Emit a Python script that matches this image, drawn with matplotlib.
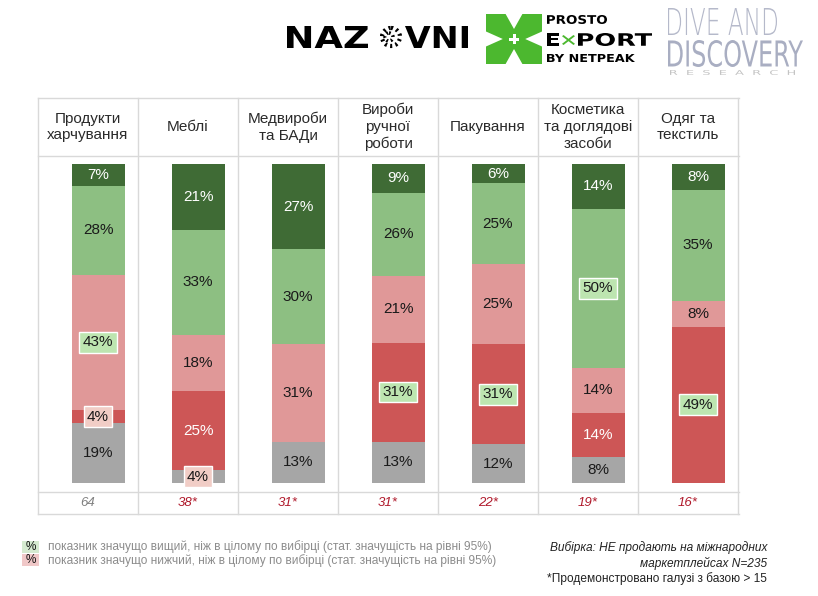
import numpy as np
import matplotlib
matplotlib.use('Agg')
import matplotlib.pyplot as plt
from matplotlib.textpath import TextPath
from matplotlib.patches import PathPatch, Polygon, Rectangle, Circle
from matplotlib.font_manager import FontProperties
from matplotlib.transforms import Affine2D

plt.rcParams['font.family'] = ['Liberation Sans', 'DejaVu Sans']

# ---- data ----
categories = ['Продукти\nхарчування', 'Меблі', 'Медвироби\nта БАДи',
              'Вироби\nручної\nроботи', 'Пакування',
              'Косметика\nта доглядові\nзасоби', 'Одяг та\nтекстиль']
gray = [19, 4, 13, 13, 12, 8, 0]
dark_red = [4, 25, 0, 31, 31, 14, 49]
light_red = [43, 18, 31, 21, 25, 14, 8]
light_green = [28, 33, 30, 26, 25, 50, 35]
dark_green = [7, 21, 27, 9, 6, 14, 8]
bases = ['64', '38*', '31*', '31*', '22*', '19*', '16*']
# significance flags per segment: 'h' higher, 'l' lower
gray_sig = ['', 'l', '', '', '', '', '']
dark_red_sig = ['l', '', '', 'h', 'h', '', 'h']
light_red_sig = ['h', '', '', '', '', '', '']
light_green_sig = ['', '', '', '', '', 'h', '']
dark_green_sig = ['', '', '', '', '', '', '']

series = [
    (gray, gray_sig, '#a6a6a6', '#1a1a1a'),
    (dark_red, dark_red_sig, '#cd5656', 'white'),
    (light_red, light_red_sig, '#e09898', '#1a1a1a'),
    (light_green, light_green_sig, '#8dbf82', '#1a1a1a'),
    (dark_green, dark_green_sig, '#3f6b35', 'white'),
]

W, H = 818, 596
fig = plt.figure(figsize=(W / 100, H / 100), dpi=100)

# overlay in pixel coordinates for table lines, headers and logos
ov = fig.add_axes([0, 0, 1, 1])
ov.set_xlim(0, W)
ov.set_ylim(H, 0)
ov.axis('off')

left, right = 38, 738
col_w = (right - left) / len(categories)
line_c = '#d9d9d9'
for y in [98, 156, 492, 514]:
    ov.plot([left, right + 1], [y, y], color=line_c, lw=1)
for i in range(len(categories) + 1):
    ov.plot([left + i * col_w] * 2, [98, 514], color=line_c, lw=1)

for i, cat in enumerate(categories):
    cx = left + (i + 0.5) * col_w
    ov.text(cx, 127, cat, ha='center', va='center', fontsize=11,
            color='#2a2a2a', linespacing=1.25)
    ov.text(cx, 503, bases[i], ha='center', va='center', fontsize=9.5,
            style='italic', color='#808080' if i == 0 else '#b0192b')

# ---- bars ----
ax = fig.add_axes([left / W, (H - 483) / H, (right - left) / W, 319 / H])
ax.set_xlim(0, len(categories))
ax.set_ylim(0, 100)
ax.axis('off')

totals = np.sum([s[0] for s in series], axis=0)
x = np.arange(len(categories)) + 0.6
bottom = np.zeros(len(categories))
for vals, sig, col, tcol in series:
    share = np.array(vals) / totals * 100
    ax.bar(x, share, 0.53, bottom=bottom, color=col, linewidth=0)
    for i, v in enumerate(vals):
        if v == 0:
            continue
        yc = bottom[i] + share[i] / 2
        kw = dict(ha='center', va='center', fontsize=11, color=tcol)
        if sig[i] == 'h':
            kw['color'] = '#1a1a1a'
            kw['bbox'] = dict(boxstyle='square,pad=0.22', fc='#bde5b0',
                              ec='white', lw=1)
        elif sig[i] == 'l':
            kw['color'] = '#1a1a1a'
            kw['bbox'] = dict(boxstyle='square,pad=0.22', fc='#f1cdc6',
                              ec='white', lw=1)
        ax.text(x[i], yc, f'{v}%', **kw)
    bottom += share

# ---- legend and notes ----
ov.add_patch(Rectangle((22, 541), 17, 12, fc='#d5ead0', ec='none'))
ov.add_patch(Rectangle((22, 554), 17, 12, fc='#f0c8c8', ec='none'))
ov.text(30.5, 547, '%', ha='center', va='center', fontsize=8.5, color='#111111')
ov.text(30.5, 560, '%', ha='center', va='center', fontsize=8.5, color='#111111')
ov.text(48, 547, 'показник значущо вищий, ніж в цілому по вибірці (стат. значущість на рівні 95%)',
        ha='left', va='center', fontsize=8.6, color='#8c8c8c')
ov.text(48, 561, 'показник значущо нижчий, ніж в цілому по вибірці (стат. значущість на рівні 95%)',
        ha='left', va='center', fontsize=8.6, color='#8c8c8c')
ov.text(767, 548, 'Вибірка: НЕ продають на міжнародних', ha='right', va='center',
        fontsize=8.6, style='italic', color='#222222')
ov.text(767, 563, 'маркетплейсах N=235', ha='right', va='center',
        fontsize=8.6, style='italic', color='#222222')
ov.text(767, 579, '*Продемонстровано галузі з базою > 15', ha='right', va='center',
        fontsize=8.6, color='#222222')


# ---- logos ----
def fit_text(s, x0, x1, y0, y1, color, **fp):
    tp = TextPath((0, 0), s, size=10, prop=FontProperties(**fp))
    bb = tp.get_extents()
    tr = Affine2D().translate(-bb.x0, -bb.y0).scale(
        (x1 - x0) / bb.width, -(y1 - y0) / bb.height).translate(x0, y1)
    ov.add_patch(PathPatch(tr.transform_path(tp), fc=color, ec='none', lw=0))


fit_text('NAZ', 287, 368, 26, 48, 'black', family='DejaVu Sans', weight='bold')
fit_text('VNI', 405, 468, 26, 48, 'black', family='DejaVu Sans', weight='bold')
ov.add_patch(Circle((391, 37), 9, fill=False, ec='black', lw=3, ls=(0, (0.5, 0.8))))
ov.add_patch(Circle((389, 37), 4, fill=False, ec='black', lw=2.5, ls=(0, (0.5, 0.8))))

# green X icon
gx0, gx1, gy0, gy1 = 486, 542, 14, 64
u = np.array([0, .35, .5, .65, 1, 1, .7, 1, 1, .65, .5, .35, 0, 0, .3, 0])
v = np.array([0, 0, .3, 0, 0, .35, .5, .65, 1, 1, .7, 1, 1, .65, .5, .35])
ov.add_patch(Polygon(np.c_[gx0 + u * (gx1 - gx0), gy0 + v * (gy1 - gy0)],
                     closed=True, fc='#4cb82f', ec='none'))
gcx, gcy = (gx0 + gx1) / 2, (gy0 + gy1) / 2
ov.add_patch(Rectangle((gcx - 5, gcy - 1.5), 10, 3, fc='white', ec='none'))
ov.add_patch(Rectangle((gcx - 1.5, gcy - 5), 3, 10, fc='white', ec='none'))

fit_text('PROSTO', 547, 607, 15, 24, 'black', family='DejaVu Sans', weight='bold')
fit_text('E', 547, 559, 33, 46, 'black', family='DejaVu Sans', weight='bold')
fit_text('✕', 562, 575, 35, 45, '#4cb82f', family='DejaVu Sans', weight='bold')
fit_text('PORT', 578, 652, 33, 46, 'black', family='DejaVu Sans', weight='bold')
fit_text('BY NETPEAK', 547, 635, 54, 62, 'black', family='DejaVu Sans', weight='bold')

fit_text('DIVE AND', 668, 777, 8, 35, '#b5b9ca', family='DejaVu Sans', weight='light')
fit_text('DISCOVERY', 668, 803, 40, 67, '#a9aec2', family='DejaVu Sans')
fit_text('R  E  S  E  A  R  C  H', 670, 795, 70, 75, '#c4c4c4', family='DejaVu Sans')

fig.savefig('out.png', dpi=100)
